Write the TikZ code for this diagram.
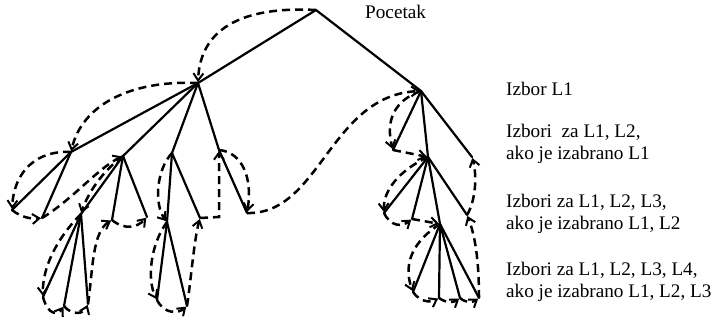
\documentclass[tikz,border=0pt]{standalone}
\usepackage{fontspec}
\setmainfont{Liberation Serif}
\usetikzlibrary{arrows.meta}

\begin{document}
\begin{tikzpicture}[
            x=1pt, y=-1pt,
            edge/.style={
                line width=2.2pt,
                line cap=round
            },
            trace/.style={
                line width=2.5pt,
                dash pattern=on 8pt off 5pt,
                -{Straight Barb[length=7pt,width=10pt,line width=2pt]},
                shorten >=1pt
            },
            desc/.style={
                anchor=base west,
                inner sep=0pt,
                font=\fontsize{19.2}{22}\selectfont
            }
        ]
            \useasboundingbox (0,0) rectangle (711,323);

            % Tree nodes
            \coordinate (root) at (316,10);
            \coordinate (a) at (198,83);
            \coordinate (b) at (421,91);
            % Level 2, left
            \coordinate (a1) at (71,152);
            \coordinate (a2) at (123,156);
            \coordinate (a3) at (172,153);
            \coordinate (a4k) at (219,150);
            \coordinate (a4) at (247,213);
            % Level 3, left
            \coordinate (a11) at (12,210);
            \coordinate (a12) at (42,218);
            \coordinate (a21) at (81,214);
            \coordinate (a22) at (112,220);
            \coordinate (a23) at (147,217);
            \coordinate (a31) at (167,222);
            \coordinate (a32) at (200,218);
            \coordinate (a32c) at (219,217);
            % Level 4, left
            \coordinate (a211) at (43,297);
            \coordinate (a212) at (64,306);
            \coordinate (a213) at (88,304);
            \coordinate (a311) at (157,300);
            \coordinate (a312) at (187,306);
            % Right subtree
            \coordinate (b1) at (393,150);
            \coordinate (b2) at (428,157);
            \coordinate (b3) at (472,157);
            \coordinate (b21) at (384,213);
            \coordinate (b22) at (412,219);
            \coordinate (b23) at (440,224);
            \coordinate (b24) at (467,215);
            \coordinate (b231) at (413,292);
            \coordinate (b232) at (439,298);
            \coordinate (b233) at (460,298);
            \coordinate (b234) at (479,298);

            % Solid edges
            \draw[edge] (root) -- (a);
            \draw[edge] (root) -- (b);
            \foreach \c in {a1,a2,a3} \draw[edge] (a) -- (\c);
            \draw[edge] (a) -- (a4k) -- (a4);
            \foreach \c in {a11,a12} \draw[edge] (a1) -- (\c);
            \foreach \c in {a21,a22,a23} \draw[edge] (a2) -- (\c);
            \foreach \c in {a211,a212,a213} \draw[edge] (a21) -- (\c);
            \foreach \c in {a31,a32} \draw[edge] (a3) -- (\c);
            \foreach \c in {a311,a312} \draw[edge] (a31) -- (\c);
            \foreach \c in {b1,b2,b3} \draw[edge] (b) -- (\c);
            \foreach \c in {b21,b22,b23,b24} \draw[edge] (b2) -- (\c);
            \foreach \c in {b231,b232,b233,b234} \draw[edge] (b23) -- (\c);

            % Dashed search path, left subtree
            \draw[trace] (root) .. controls (240,6) and (200,30) .. (a);
            \draw[trace] (a) .. controls (130,80) and (82,105) .. (a1);
            \draw[trace] (a1) .. controls (38,150) and (14,170) .. (a11);
            \draw[trace] (a11) .. controls (22,218) and (32,219) .. (a12);
            \draw[trace] (a12) .. controls (72,200) and (98,168) .. (a2);
            \draw[trace] (a2) .. controls (104,170) and (88,192) .. (a21);
            \draw[trace] (a21) .. controls (60,235) and (42,265) .. (a211);
            \draw[trace] (a211) .. controls (48,316) and (58,315) .. (a212);
            \draw[trace] (a212) .. controls (72,316) and (84,314) .. (a213);
            \draw[trace] (a213) .. controls (93,270) and (92,232) .. (a22);
            \draw[trace] (a22) .. controls (124,230) and (137,228) .. (a23);
            \draw[trace] (a3) .. controls (156,170) and (154,205) .. (a31);
            \draw[trace] (a31) .. controls (150,245) and (147,280) .. (a311);
            \draw[trace] (a311) .. controls (164,314) and (178,314) .. (a312);
            \draw[trace] (a312) .. controls (191,280) and (194,240) .. (a32);
            \draw[trace] (a32) -- (a32c) -- (a4k);
            \draw[trace] (a4k) .. controls (242,152) and (253,178) .. (a4);

            % Dashed search path, right subtree
            \draw[trace] (a4) .. controls (320,215) and (330,95) .. (b);
            \draw[trace] (b) .. controls (395,100) and (385,120) .. (b1);
            \draw[trace] (b1) -- (b2);
            \draw[trace] (b2) .. controls (400,170) and (383,190) .. (b21);
            \draw[trace] (b21) .. controls (391,227) and (402,227) .. (b22);
            \draw[trace] (b22) -- (b23);
            \draw[trace] (b23) .. controls (415,240) and (402,262) .. (b231);
            \draw[trace] (b231) .. controls (420,302) and (430,303) .. (b232);
            \draw[trace] (b232) .. controls (446,303) and (453,303) .. (b233);
            \draw[trace] (b233) .. controls (466,303) and (472,303) .. (b234);
            \draw[trace] (b234) .. controls (479,260) and (475,235) .. (b24);
            \draw[trace] (b24) .. controls (476,200) and (477,175) .. (b3);

            % Level descriptions
            \node[desc] (start) at (365,19) {Pocetak};
            \node[desc] (lvl1) at (506,96) {Izbor L1};
            \node[desc] (lvl2a) at (506,138) {Izbori\ \ za L1, L2,};
            \node[desc] (lvl2b) at (506,160) {ako je izabrano L1};
            \node[desc] (lvl3a) at (506,207) {Izbori za L1, L2, L3,};
            \node[desc] (lvl3b) at (506,229) {ako je izabrano L1, L2};
            \node[desc] (lvl4a) at (506,275) {Izbori za L1, L2, L3, L4,};
            \node[desc] (lvl4b) at (506,297) {ako je izabrano L1, L2, L3};
        \end{tikzpicture}
\end{document}
